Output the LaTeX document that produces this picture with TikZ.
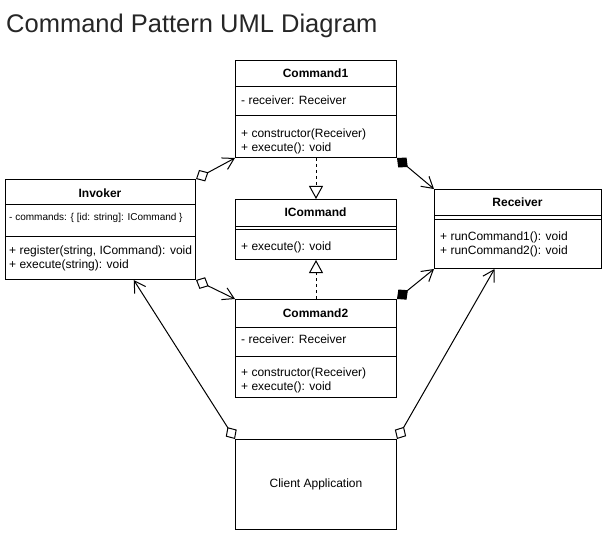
\documentclass[tikz,border=0pt]{standalone}
\usepackage{fontspec}
\setmainfont{Liberation Sans}
\usetikzlibrary{arrows.meta,calc}

\tikzset{
  umlbox/.style={draw=black, line width=1pt, inner sep=0pt, anchor=north west},
  member/.style={anchor=mid west, inner sep=0pt, font=\fontsize{12}{14}\selectfont},
  smallmember/.style={member, font=\fontsize{10}{12}\selectfont},
  classname/.style={anchor=mid, inner sep=0pt, font=\fontsize{12}{14}\selectfont\bfseries},
  compart/.style={line width=1pt},
  agg/.style={line width=1pt,
    {Diamond[open,length=14pt,width=13pt]}-{Straight Barb[length=11pt,width=13pt]}},
  comp/.style={line width=1pt,
    {Diamond[length=14pt,width=13pt]}-{Straight Barb[length=11pt,width=13pt]}},
  realize/.style={line width=1pt, dash pattern=on 3pt off 3pt,
    -{Triangle[open,length=13pt,width=14pt]}},
}

\begin{document}
\begin{tikzpicture}[x=1pt,y=-1pt]
  \useasboundingbox[fill=white] (0,0) rectangle (610,548);

  % title
  \node[anchor=base west, inner sep=0pt, font=\fontsize{25.5}{30}\selectfont, text=black!85]
    (title) at (6,33) {Command Pattern UML Diagram};

  % class boxes
  \node[umlbox, minimum width=161pt, minimum height=97pt]  (cmd1)   at (235,60)  {};
  \node[umlbox, minimum width=190pt, minimum height=100pt] (inv)    at (5,179)   {};
  \node[umlbox, minimum width=161pt, minimum height=60pt]  (icmd)   at (235,199) {};
  \node[umlbox, minimum width=167pt, minimum height=79pt]  (recv)   at (434,189) {};
  \node[umlbox, minimum width=161pt, minimum height=98pt]  (cmd2)   at (235,299) {};
  \node[umlbox, minimum width=161pt, minimum height=90pt,
        font=\fontsize{12}{14}\selectfont]                 (client) at (235,439) {Client Application};

  % compartments
  \foreach \n/\d in {cmd1/27, cmd1/56, inv/26, inv/57, icmd/27, icmd/30,
                     recv/26, recv/30, cmd2/28, cmd2/57}{
    \draw[compart] ([yshift=-\d pt]\n.north west) -- ([yshift=-\d pt]\n.north east);
  }

  % Command1
  \node[classname] (cmd1name) at (315.5,75) {Command1};
  \node[member] (cmd1attr) at (241,102) {- receiver: Receiver};
  \node[member] (cmd1m1)   at (241,135) {+ constructor(Receiver)};
  \node[member] (cmd1m2)   at (241,148.5) {+ execute(): void};

  % Invoker
  \node[classname] (invname) at (100,194.5) {Invoker};
  \node[smallmember] (invattr) at (9,218) {- commands: \{ [id: string]: ICommand \}};
  \node[member] (invm1) at (9,252) {+ register(string, ICommand): void};
  \node[member] (invm2) at (9,265.5) {+ execute(string): void};

  % ICommand
  \node[classname] (icmdname) at (315.5,213.5) {ICommand};
  \node[member] (icmdm1) at (241,248) {+ execute(): void};

  % Receiver
  \node[classname] (recvname) at (517.5,203.5) {Receiver};
  \node[member] (recvm1) at (440,238) {+ runCommand1(): void};
  \node[member] (recvm2) at (440,251.5) {+ runCommand2(): void};

  % Command2
  \node[classname] (cmd2name) at (315.5,314.5) {Command2};
  \node[member] (cmd2attr) at (241,341) {- receiver: Receiver};
  \node[member] (cmd2m1)   at (241,374) {+ constructor(Receiver)};
  \node[member] (cmd2m2)   at (241,387.5) {+ execute(): void};

  % relations
  \draw[agg]  (inv.north east) -- (cmd1.south west);
  \draw[agg]  (inv.south east) -- (cmd2.north west);
  \draw[comp] (cmd1.south east) -- (recv.north west);
  \draw[comp] (cmd2.north east) -- (recv.south west);
  \draw[realize] (cmd1.south) -- (icmd.north);
  \draw[realize] (cmd2.north) -- (icmd.south);
  \draw[agg] (client.north west) -- ($(inv.south west)!0.674!(inv.south east)$);
  \draw[agg] (client.north east) -- ($(recv.south west)!0.36!(recv.south east)$);
\end{tikzpicture}
\end{document}
